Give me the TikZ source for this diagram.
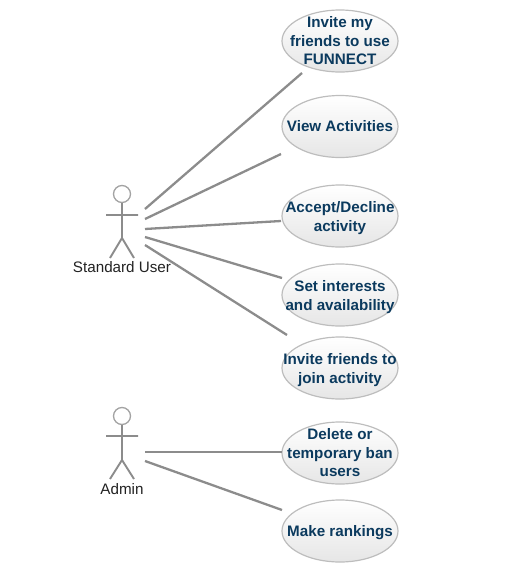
\documentclass[tikz,border=0pt]{standalone}
\usepackage{fontspec}
\setmainfont{Liberation Sans}
\usetikzlibrary{shapes.geometric}
\definecolor{ucblue}{HTML}{0B3A5E}
\definecolor{linegray}{HTML}{8C8C8C}
\definecolor{edgegray}{HTML}{BDBDBD}
\definecolor{fillgray}{HTML}{E6E6E6}
\definecolor{labelgray}{HTML}{222222}
\newcommand{\ucdrop}{\rule{0pt}{15pt}}
\tikzset{
  usecase/.style={ellipse,draw=edgegray,line width=1.2pt,top color=white,bottom color=fillgray,
    minimum width=116pt,minimum height=62pt,inner sep=-30pt,text=ucblue,align=center,
    font=\fontsize{15.2}{18.5}\selectfont\bfseries},
  assoc/.style={draw=linegray,line width=2.3pt},
  stick/.style={draw=linegray,line width=1.9pt},
  headc/.style={circle,draw=linegray!80,line width=1.3pt,fill=white,minimum size=17pt,inner sep=0pt},
  actorlabel/.style={text=labelgray,font=\fontsize{15.2}{17}\selectfont,inner sep=0pt}
}
\begin{document}
\begin{tikzpicture}[x=1pt,y=-1pt]
\useasboundingbox (0,0) rectangle (506,568);
\node[usecase] (u1) at (340,41) {Invite my\\friends to use\\FUNNECT};
\node[usecase] (u2) at (340,126.5) {View Activities};
\node[usecase] (u3) at (340,216) {\ucdrop Accept/Decline\\activity};
\node[usecase] (u4) at (340,295) {\ucdrop Set interests\\and availability};
\node[usecase] (u5) at (340,368) {\ucdrop Invite friends to\\join activity};
\node[usecase] (u6) at (340,453) {Delete or\\temporary ban\\users};
\node[usecase] (u7) at (340,531) {\ucdrop Make rankings};
% standard user actor
\node[headc] (h1) at (122,194) {};
\coordinate (b1) at (122,238);
\coordinate (al1) at (106,215);
\coordinate (ar1) at (138,215);
\coordinate (ll1) at (110,258);
\coordinate (lr1) at (134,258);
\draw[stick] (h1.south) -- (b1) (al1) -- (ar1) (ll1) -- (b1) -- (lr1);
\node[actorlabel] (l1) at (122,267) {Standard User};
% admin actor
\node[headc] (h2) at (122,416) {};
\coordinate (b2) at (122,460);
\coordinate (al2) at (106,436);
\coordinate (ar2) at (138,436);
\coordinate (ll2) at (110,479);
\coordinate (lr2) at (134,479);
\draw[stick] (h2.south) -- (b2) (al2) -- (ar2) (ll2) -- (b2) -- (lr2);
\node[actorlabel] (l2) at (122,489) {Admin};
% connector ends
\coordinate (s1) at (145,209);
\coordinate (s2) at (145,219);
\coordinate (s3) at (145,229);
\coordinate (s4) at (145,237);
\coordinate (s5) at (145,245);
\coordinate (s6) at (145,452);
\coordinate (s7) at (145,461);
\coordinate (e1) at (302,73);
\coordinate (e2) at (281,154);
\coordinate (e3) at (281,221);
\coordinate (e4) at (282,278);
\coordinate (e5) at (287,335);
\coordinate (e6) at (282,452);
\coordinate (e7) at (282,510);
\draw[assoc] (s1) -- (e1);
\draw[assoc] (s2) -- (e2);
\draw[assoc] (s3) -- (e3);
\draw[assoc] (s4) -- (e4);
\draw[assoc] (s5) -- (e5);
\draw[assoc] (s6) -- (e6);
\draw[assoc] (s7) -- (e7);
\end{tikzpicture}
\end{document}
